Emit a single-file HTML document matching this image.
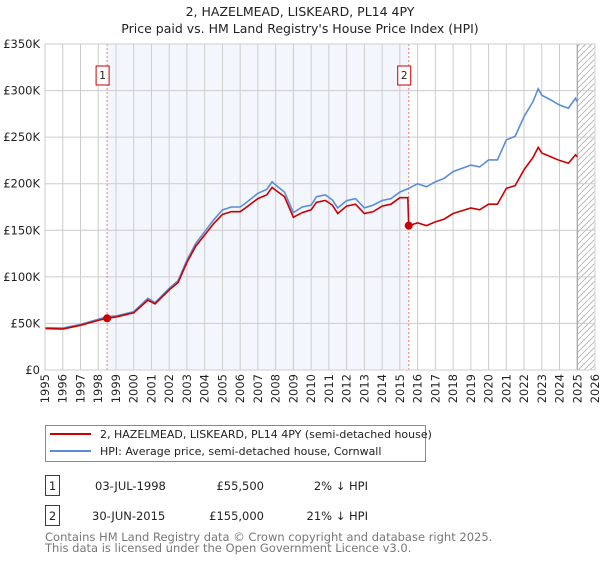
<!DOCTYPE html>
<html><head><meta charset="utf-8"><style>
body{margin:0;background:#fff;font-family:"Liberation Sans","DejaVu Sans",sans-serif;}
</style></head><body>
<svg id="c" width="600" height="560" xmlns="http://www.w3.org/2000/svg" font-family="DejaVu Sans, Liberation Sans, sans-serif">
<text x="300" y="16" text-anchor="middle" font-size="12.5" fill="#222">2, HAZELMEAD, LISKEARD, PL14 4PY</text>
<text x="300" y="33" text-anchor="middle" font-size="12.5" fill="#222">Price paid vs. HM Land Registry's House Price Index (HPI)</text>
<g id="plot"></g>
<g>
<rect x="45.5" y="425.5" width="380" height="36" fill="#fff" stroke="#888"/>
<line x1="50" y1="434" x2="91" y2="434" stroke="#cc0000" stroke-width="2"/>
<text x="100" y="438" font-size="11" fill="#222">2, HAZELMEAD, LISKEARD, PL14 4PY (semi-detached house)</text>
<line x1="50" y1="451" x2="91" y2="451" stroke="#5b8dd6" stroke-width="2"/>
<text x="100" y="455" font-size="11" fill="#222">HPI: Average price, semi-detached house, Cornwall</text>
</g>
<g font-size="11.5" fill="#222">
<rect x="45.5" y="475.5" width="14" height="20" fill="#fff" stroke="#cc0000"/><text x="52.5" y="490" text-anchor="middle">1</text>
<text x="95" y="490">03-JUL-1998</text><text x="264" y="490" text-anchor="end">£55,500</text><text x="368" y="490" text-anchor="end">2% ↓ HPI</text>
<rect x="45.5" y="505.5" width="14" height="20" fill="#fff" stroke="#cc0000"/><text x="52.5" y="520" text-anchor="middle">2</text>
<text x="92" y="520">30-JUN-2015</text><text x="264" y="520" text-anchor="end">£155,000</text><text x="368" y="520" text-anchor="end">21% ↓ HPI</text>
</g>
<text x="45" y="541" font-size="11.5" fill="#777">Contains HM Land Registry data © Crown copyright and database right 2025.</text>
<text x="45" y="552" font-size="11.5" fill="#777">This data is licensed under the Open Government Licence v3.0.</text>
</svg>
<script>
const hpiDates=[1995,1996,1997,1998,1998.5,1999,2000,2000.8,2001.2,2002,2002.5,2003,2003.5,2004,2004.5,2005,2005.5,2006,2006.3,2007,2007.5,2007.8,2008,2008.5,2009,2009.5,2010,2010.3,2010.8,2011.2,2011.5,2012,2012.5,2013,2013.5,2014,2014.5,2015,2015.5,2016,2016.5,2017,2017.5,2018,2018.5,2019,2019.5,2020,2020.5,2021,2021.5,2022,2022.5,2022.8,2023,2023.5,2024,2024.5,2024.9,2025];
const hpiValues=[45.4,45,49,54.4,57.2,58,62.6,77,72.3,87.7,95.9,118,136,148.5,161,171.8,175,175,179,189.7,194,202,198.6,191,169,175,177,186,188,182.5,174,181.8,184,174,177,182,184,191,195,200,196.7,202,205.8,213,216.5,220,218,225.5,225.5,247,251,272,288,302,295,290,284.5,281,291.7,288];
const redDates=[1995,1996,1997,1998,1998.5,1999,2000,2000.8,2001.2,2002,2002.5,2003,2003.5,2004,2004.5,2005,2005.5,2006,2006.3,2007,2007.5,2007.8,2008,2008.5,2009,2009.5,2010,2010.3,2010.8,2011.2,2011.5,2012,2012.5,2013,2013.5,2014,2014.5,2015,2015.45,2015.5,2016,2016.5,2017,2017.5,2018,2018.5,2019,2019.5,2020,2020.5,2021,2021.5,2022,2022.5,2022.8,2023,2023.5,2024,2024.5,2024.9,2025];
const redValues=[44.5,44,48,53.3,55.5,57,61.4,75,71,86,94,115.5,133,145,157,167,170,170,174,184,188,196,193,186,164,169,172,180,182,177,168,176,178,168,170,176,178,185,185,155,158,155,159,162,168,171,174,172,178,178,195,198,215,228,239,233,229,225,222,231,229];
const saleDates=[1998.5,2015.5];
const saleValues=[55.5,155];
const saleLabels=["1","2"];
const yTicks=[0,50,100,150,200,250,300,350];
const yTickLabels=["£0","£50K","£100K","£150K","£200K","£250K","£300K","£350K"];
const xTicks=[1995,1996,1997,1998,1999,2000,2001,2002,2003,2004,2005,2006,2007,2008,2009,2010,2011,2012,2013,2014,2015,2016,2017,2018,2019,2020,2021,2022,2023,2024,2025,2026];

const X0=45,X1=595,Y0=370,Y1=44;
const xs=d=>X0+(d-1995)/31*(X1-X0);
const ys=v=>Y0-v/350*(Y0-Y1);
const NS="http://www.w3.org/2000/svg";
const g=document.getElementById('plot');
function mk(t,a,p){const e=document.createElementNS(NS,t);for(const k in a)e.setAttribute(k,a[k]);(p||g).appendChild(e);return e;}

const shade=mk('rect',{x:xs(saleDates[0]),y:Y1,width:xs(saleDates[1])-xs(saleDates[0]),height:Y0-Y1,fill:'#eef3fc',opacity:0.7});


const defs=mk('defs',{});
const pat=mk('pattern',{id:'hatch',patternUnits:'userSpaceOnUse',width:6,height:6},defs);
mk('path',{d:'M0,6 L6,0',stroke:'#bbb','stroke-width':1},pat);
const hatch=mk('rect',{x:xs(2025),y:Y1,width:X1-xs(2025),height:Y0-Y1,fill:'url(#hatch)'});



yTicks.forEach((t,i)=>{
  const l=mk('line',{x1:X0,x2:X1,y1:ys(t),y2:ys(t),stroke:'#ccc'});
  
  
  const tx=mk('text',{x:X0-5,y:ys(t)+4,'text-anchor':'end','font-size':11.5,fill:'#222'});
  tx.textContent=yTickLabels[i];
  
  
});
xTicks.forEach(t=>{
  const l=mk('line',{x1:xs(t),x2:xs(t),y1:Y1,y2:Y0,stroke:'#ccc'});
  
  
  const tx=mk('text',{x:0,y:0,'text-anchor':'end','font-size':11.5,fill:'#222',transform:`translate(${xs(t)+4},374) rotate(-90)`});
  tx.textContent=t;
  
  
});
const vl=mk('line',{x1:xs(2025),x2:xs(2025),y1:Y1,y2:Y0,stroke:'#999','stroke-width':1});



saleDates.forEach((d,i)=>{
  const l=mk('line',{x1:xs(d),x2:xs(d),y1:Y1,y2:Y0,stroke:'#f08080','stroke-dasharray':'2,2'});
  
  
  const r=mk('rect',{x:xs(d)-11,y:66,width:13,height:19,fill:'#fff',stroke:'#cc0000'});
  
  
  const tx=mk('text',{x:xs(d)-4.5,y:79,'text-anchor':'middle','font-size':10.5,fill:'#222'});
  tx.textContent=saleLabels[i];
  
  
});

const hp=mk('polyline',{points:hpiDates.map((d,i)=>xs(d)+','+ys(hpiValues[i])).join(' '),fill:'none',stroke:'#5b8dd6','stroke-width':1.6});


const rp=mk('polyline',{points:redDates.map((d,i)=>xs(d)+','+ys(redValues[i])).join(' '),fill:'none',stroke:'#cc0000','stroke-width':1.6});


saleDates.forEach((d,i)=>{
  const c=mk('circle',{cx:xs(d),cy:ys(saleValues[i]),r:4,fill:'#cc0000'});
  
  
});
const fr=mk('rect',{x:X0,y:Y1,width:X1-X0,height:Y0-Y1,fill:'none',stroke:'#ccc'});


</script>
</body></html>
